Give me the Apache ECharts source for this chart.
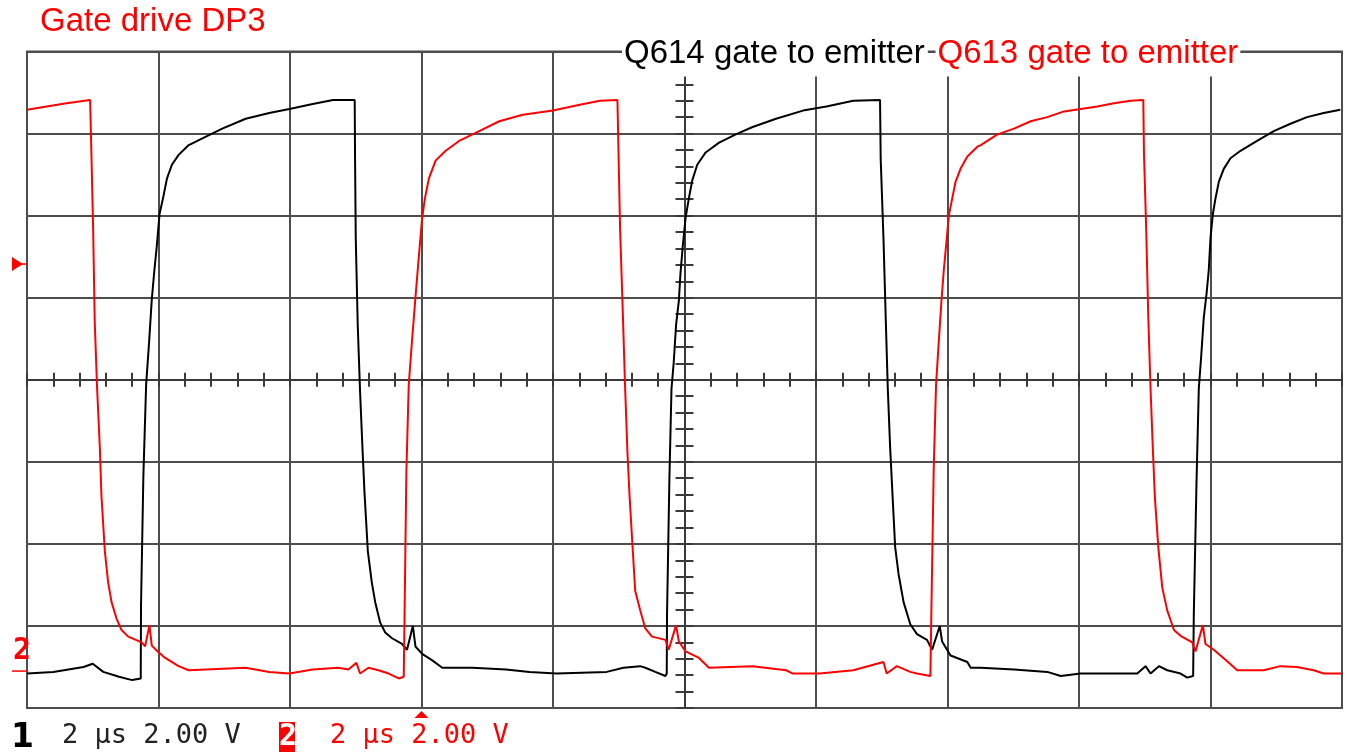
<!DOCTYPE html>
<html><head><meta charset="utf-8">
<script src="https://cdn.jsdelivr.net/npm/echarts@6/dist/echarts.min.js"></script>
<style>html,body{margin:0;padding:0;background:#fff}#c{width:1348px;height:752px}</style>
</head><body><div id="c"></div>
<script>
// time in microseconds (2 us/div, 10 div), voltage in volts (2 V/div, 8 div)
const timeRange = [0, 20];
const voltRange = [-8, 8];
const chartTitle = 'Gate drive DP3';
const seriesNames = ['Q614 gate to emitter', 'Q613 gate to emitter'];
const channelLabels = ['1', '2 μs 2.00 V', '2', '2 μs 2.00 V'];
const triggerLevel = 2.82;   // V
const ch2Ground = -7.1;      // V
const triggerTime = 6.0;     // us

// Q614 gate to emitter (black trace)
const q614 = [
[0,-7.16],[0.4,-7.12],[0.86,-7.00],[1.0,-6.92],[1.16,-7.12],[1.40,-7.24],[1.60,-7.32],[1.73,-7.28],
[1.734,-5.52],[1.77,-2.34],[1.812,-0.12],[1.858,0.94],[1.898,1.96],[1.938,2.68],[1.974,3.26],[2.016,4.04],[2.076,4.48],[2.128,4.90],[2.204,5.24],[2.306,5.48],[2.46,5.72],[2.714,5.92],[2.97,6.12],[3.326,6.36],[3.684,6.50],[3.99,6.60],[4.346,6.72],[4.654,6.82],[4.984,6.82],
[4.99,5.30],[5.0,3.46],[5.03,1.34],[5.066,-0.30],[5.102,-1.66],[5.132,-2.72],[5.184,-4.18],[5.244,-4.94],[5.296,-5.42],[5.372,-5.92],[5.448,-6.16],[5.552,-6.30],[5.704,-6.44],[5.78,-6.58],[5.868,-6.00],[5.908,-6.50],[6.01,-6.68],[6.164,-6.84],[6.316,-7.02],[6.776,-7.02],[7.286,-7.06],[7.642,-7.12],[8.052,-7.16],[8.816,-7.12],[9.072,-7.02],[9.326,-6.98],[9.404,-7.02],[9.556,-7.12],[9.71,-7.22],[9.73,-7.16],
[9.734,-5.76],[9.77,-2.44],[9.802,-0.22],[9.836,0.42],[9.872,1.34],[9.914,1.92],[9.938,2.58],[9.974,3.26],[10.016,3.94],[10.066,4.42],[10.118,4.86],[10.194,5.24],[10.322,5.54],[10.526,5.78],[10.78,5.98],[11.036,6.16],[11.392,6.36],[11.802,6.56],[12.158,6.66],[12.566,6.80],[12.974,6.82],
[12.984,5.38],[13.026,3.46],[13.062,1.42],[13.092,-0.22],[13.128,-1.66],[13.164,-2.82],[13.204,-4.08],[13.256,-4.74],[13.332,-5.42],[13.434,-5.96],[13.536,-6.20],[13.688,-6.34],[13.766,-6.58],[13.882,-6.00],[13.918,-6.38],[14.046,-6.72],[14.302,-6.88],[14.352,-7.02],[14.506,-7.02],[15.012,-7.06],[15.518,-7.12],[15.722,-7.22],[16.026,-7.16],[16.532,-7.16],[16.886,-7.16],[17.012,-6.98],[17.088,-7.16],[17.216,-6.98],[17.342,-7.08],[17.544,-7.16],[17.646,-7.26],[17.736,-7.22],
[17.746,-5.72],[17.788,-2.44],[17.822,-0.22],[17.858,0.56],[17.898,1.52],[17.94,2.10],[17.974,2.68],[18.0,3.46],[18.036,4.04],[18.076,4.42],[18.126,4.82],[18.202,5.14],[18.304,5.40],[18.456,5.58],[18.708,5.82],[18.962,6.06],[19.216,6.24],[19.468,6.40],[19.722,6.50],[19.974,6.58]
];

// Q613 gate to emitter (red trace)
const q613 = [
[0,6.58],[0.30,6.66],[0.60,6.74],[0.96,6.82],
[0.98,5.48],[1.006,3.66],[1.03,1.42],[1.066,-0.20],[1.108,-1.66],[1.132,-2.82],[1.184,-4.18],[1.234,-4.94],[1.286,-5.42],[1.362,-5.82],[1.438,-6.10],[1.54,-6.26],[1.744,-6.40],[1.796,-6.50],[1.862,-5.98],[1.898,-6.48],[2.0,-6.64],[2.102,-6.78],[2.306,-6.98],[2.46,-7.08],[3.326,-7.02],[3.684,-7.12],[3.99,-7.16],[4.346,-7.06],[4.734,-7.02],[4.888,-7.06],[5.01,-6.90],[5.066,-7.16],[5.194,-7.02],[5.346,-7.08],[5.50,-7.16],[5.654,-7.28],[5.73,-7.24],
[5.744,-5.52],[5.77,-2.24],[5.806,-0.12],[5.858,1.00],[5.908,2.00],[5.948,2.78],[5.984,3.46],[6.01,3.94],[6.052,4.42],[6.112,4.90],[6.214,5.34],[6.368,5.58],[6.572,5.82],[6.878,6.06],[7.184,6.30],[7.54,6.46],[8.0,6.56],[8.408,6.70],[8.714,6.80],[8.98,6.82],
[8.994,5.72],[9.02,3.70],[9.062,1.62],[9.096,-0.16],[9.132,-1.76],[9.164,-2.82],[9.214,-4.18],[9.25,-5.14],[9.326,-5.62],[9.404,-6.06],[9.506,-6.26],[9.71,-6.34],[9.76,-6.58],[9.872,-5.98],[9.914,-6.38],[10.016,-6.62],[10.22,-6.78],[10.372,-7.02],[11.036,-6.98],[11.546,-7.08],[11.648,-7.16],[12.056,-7.16],[12.566,-7.08],[13.026,-6.88],[13.076,-7.16],[13.23,-6.98],[13.434,-7.12],[13.536,-7.16],[13.74,-7.22],
[13.756,-5.52],[13.79,-2.20],[13.826,-0.12],[13.868,0.94],[13.908,1.92],[13.944,2.68],[13.984,3.36],[14.02,4.00],[14.072,4.42],[14.122,4.82],[14.198,5.14],[14.302,5.44],[14.454,5.68],[14.506,5.72],[14.76,5.98],[15.012,6.12],[15.266,6.30],[15.518,6.40],[15.772,6.54],[16.026,6.60],[16.278,6.66],[16.532,6.74],[16.784,6.80],[16.978,6.82],
[16.988,5.54],[17.022,3.66],[17.054,1.52],[17.088,-0.22],[17.124,-1.72],[17.154,-2.86],[17.206,-4.08],[17.266,-5.06],[17.342,-5.62],[17.444,-6.10],[17.544,-6.24],[17.722,-6.40],[17.772,-6.62],[17.884,-5.98],[17.924,-6.44],[18.05,-6.58],[18.254,-6.86],[18.406,-7.08],[18.81,-7.08],[19.064,-6.98],[19.316,-7.00],[19.57,-7.08],[19.722,-7.16],[20,-7.16]
];

const RED = '#ff0000', GRID = '#4d4d4d', TICK = '#3a3a3a';
const chart = echarts.init(document.getElementById('c'));
const tickStyle = {color: TICK, width: 2};
function centerX(pos) {
  return {type:'value', min: timeRange[0], max: timeRange[1], interval: 2, position: pos,
    axisLine: {show: true, onZero: true, lineStyle: tickStyle},
    axisTick: {show: true, length: 7, lineStyle: tickStyle},
    minorTick: {show: true, splitNumber: 5, length: 7, lineStyle: tickStyle},
    axisLabel: {show: false}, splitLine: {show: false}};
}
function centerY(pos) {
  return {type:'value', min: voltRange[0], max: voltRange[1], interval: 2, position: pos, offset: -657.5,
    axisLine: {show: true, onZero: false, lineStyle: tickStyle},
    axisTick: {show: true, length: 9, lineStyle: tickStyle},
    minorTick: {show: true, splitNumber: 5, length: 9, lineStyle: tickStyle},
    axisLabel: {show: false}, splitLine: {show: false}};
}
const titleFont = {fontSize: 33, fontWeight: 'normal', fontFamily: 'Liberation Sans'};
chart.setOption({
  animation: false,
  backgroundColor: '#fff',
  grid: {left: 27, right: 6, top: 51.5, bottom: 44, show: true, borderColor: GRID, borderWidth: 2},
  title: [
    {text: chartTitle, left: 40, top: 5, padding: 0, textStyle: Object.assign({color: RED, lineHeight: 33}, titleFont)},
    {text: seriesNames[0], left: 622, top: 34, padding: [4,3,6,2], backgroundColor: '#fff', textStyle: Object.assign({color: '#000', lineHeight: 32}, titleFont)},
    {text: seriesNames[1], left: 935.5, top: 34, padding: [4,2,6,2], backgroundColor: '#fff', textStyle: Object.assign({color: RED, lineHeight: 32}, titleFont)}
  ],
  xAxis: [
    {type:'value', min: timeRange[0], max: timeRange[1], interval: 2,
     axisLine: {show: false}, axisTick: {show: false}, axisLabel: {show: false},
     splitLine: {show: true, lineStyle: {color: GRID, width: 2}}},
    centerX('bottom'), centerX('top')
  ],
  yAxis: [
    {type:'value', min: voltRange[0], max: voltRange[1], interval: 2,
     axisLine: {show: false}, axisTick: {show: false}, axisLabel: {show: false},
     splitLine: {show: true, lineStyle: {color: GRID, width: 2}}},
    centerY('left'), centerY('right')
  ],
  series: [
    {name: seriesNames[0], type: 'line', data: q614, showSymbol: false, symbol: 'none', z: 3,
     lineStyle: {color: '#000', width: 2}},
    {name: seriesNames[1], type: 'line', data: q613, showSymbol: false, symbol: 'none', z: 4,
     lineStyle: {color: RED, width: 2}}
  ]
});

// decorations positioned through the chart's own scales
const P = (t, v) => chart.convertToPixel({xAxisIndex: 0, yAxisIndex: 0}, [t, v]);
const gl = P(timeRange[0], 0)[0];
const gb = P(0, voltRange[0])[1];
const ty = P(0, triggerLevel)[1];
const g2 = P(0, ch2Ground)[1];
const tx = P(triggerTime, 0)[0];
const mono = 'DejaVu Sans Mono';
chart.setOption({graphic: [
  {type: 'polygon', shape: {points: [[gl-15, ty-7], [gl-15, ty+7], [gl-4, ty]]}, style: {fill: RED}},
  {type: 'line', shape: {x1: gl-6, y1: ty, x2: gl, y2: ty}, style: {stroke: RED, lineWidth: 1.5}},
  {type: 'line', shape: {x1: gl-15, y1: g2, x2: gl, y2: g2}, style: {stroke: RED, lineWidth: 1.5}},
  {type: 'text', x: gl-14, y: g2-35, style: {text: '2', fill: RED, font: 'bold 30px "' + mono + '"',
     textShadowColor: '#000', textShadowOffsetX: 1.5, textShadowOffsetY: 1, textShadowBlur: 0}},
  {type: 'polygon', shape: {points: [[tx-7, gb+10], [tx+7, gb+10], [tx, gb+3]]}, style: {fill: RED}},
  {type: 'text', x: 11, y: 722, style: {text: channelLabels[0], fill: '#000', font: 'bold 33px "DejaVu Sans"'}},
  {type: 'text', x: 62, y: 722, style: {text: channelLabels[1], fill: '#222', font: '27px "' + mono + '"'}},
  {type: 'rect', shape: {x: 279, y: 722, width: 16, height: 30}, style: {fill: RED}},
  {type: 'text', x: 279, y: 722, style: {text: channelLabels[2], fill: '#fff', font: 'bold 30px "' + mono + '"'}},
  {type: 'text', x: 330, y: 722, style: {text: channelLabels[3], fill: RED, font: '27px "' + mono + '"'}}
]});
</script>
</body></html>
